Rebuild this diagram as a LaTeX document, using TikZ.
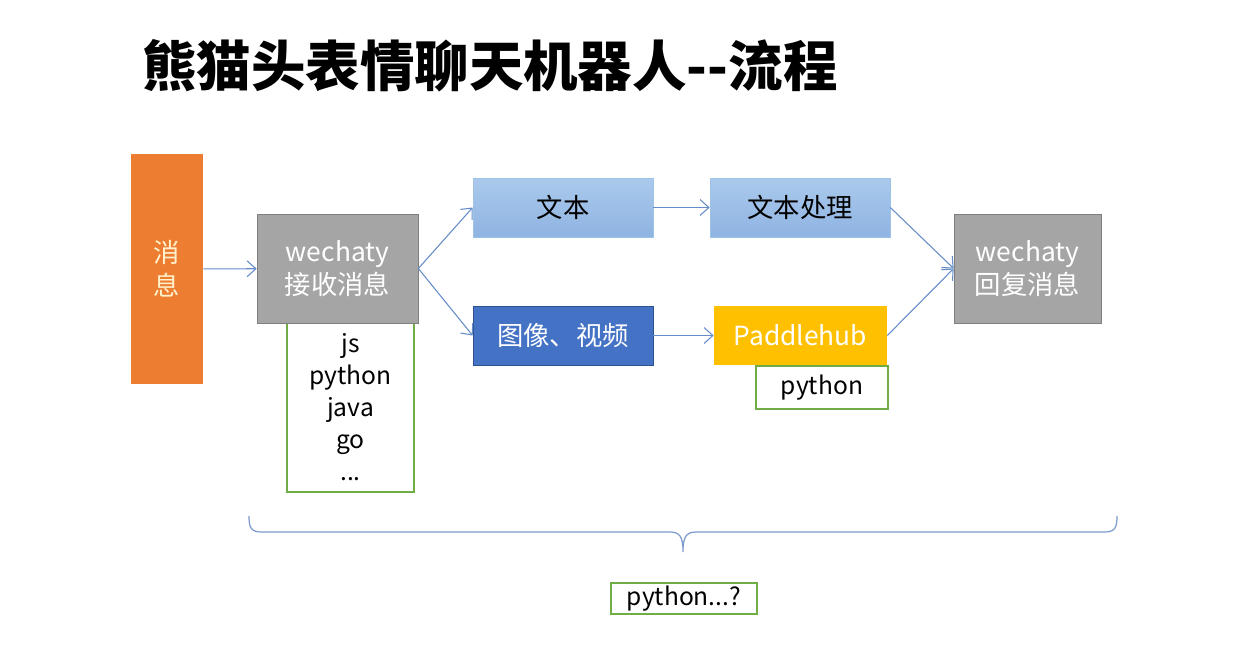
\documentclass[tikz,border=0pt]{standalone}
\usepackage{fontspec}
\setmainfont{Noto Sans CJK SC}
\usetikzlibrary{arrows.meta}

\definecolor{msgorange}{RGB}{237,125,49}
\definecolor{boxgray}{RGB}{165,165,165}
\definecolor{edgegray}{RGB}{127,127,127}
\definecolor{lightblueT}{RGB}{170,201,236}
\definecolor{lightblueB}{RGB}{143,180,226}
\definecolor{edgelight}{RGB}{157,195,230}
\definecolor{mediablue}{RGB}{68,114,196}
\definecolor{edgeblue}{RGB}{47,82,143}
\definecolor{hubyellow}{RGB}{255,192,0}
\definecolor{langgreen}{RGB}{112,173,71}
\definecolor{flowblue}{RGB}{100,140,200}
\definecolor{bracebl}{RGB}{125,155,205}
\definecolor{paletext}{RGB}{255,242,204}

\begin{document}
\begin{tikzpicture}[x=0.02cm, y=-0.02cm,
    box/.style={align=center, inner sep=0pt, font=\fontsize{15}{19}\selectfont},
    grayblock/.style={box, draw=edgegray, fill=boxgray, text=white},
    lightblock/.style={box, draw=edgelight, top color=lightblueT, bottom color=lightblueB, text=black, minimum width=3.6cm, minimum height=1.18cm},
    langbox/.style={draw=langgreen, line width=0.7pt, fill=white, align=center, inner sep=0pt, font=\fontsize{14}{18.2}\selectfont},
    flow/.style={-{Straight Barb[length=5pt,width=9pt]}, draw=flowblue, line width=0.6pt}
]
    \fill[white] (0,0) rectangle (1240,667);
    \useasboundingbox (0,0) rectangle (1240,667);

    \node[anchor=west, font=\fontsize{31}{36}\selectfont\bfseries] (title) at (136,66) {熊猫头表情聊天机器人-{}-流程};

    \node[box, fill=msgorange, text=paletext, minimum width=1.44cm, minimum height=4.6cm] (msg) at (167,269) {消\\息};

    \node[langbox, minimum width=2.54cm, minimum height=3.38cm] (langs) at (350.5,407.5) {js\\python\\java\\go\\...};
    \node[grayblock, minimum width=3.22cm, minimum height=2.18cm] (recv) at (337.5,268.5) {wechaty\\接收消息};

    \node[lightblock] (text) at (563,207.5) {文本};
    \node[lightblock] (textproc) at (800,207.5) {文本处理};
    \node[box, draw=edgeblue, fill=mediablue, text=white, minimum width=3.6cm, minimum height=1.18cm] (media) at (563,335.5) {图像、视频};
    \node[box, fill=hubyellow, text=white, minimum width=3.46cm, minimum height=1.18cm] (paddle) at (800.5,335.5) {Paddlehub};
    \node[langbox, minimum width=2.64cm, minimum height=0.86cm] (pyhub) at (822,387.5) {python};

    \node[grayblock, minimum width=2.94cm, minimum height=2.18cm] (reply) at (1027.5,268.5) {wechaty\\回复消息};

    % connectors
    \draw[flow] (msg) -- (recv);
    \draw[flow] (recv.east) -- (text.west);
    \draw[flow] (recv.east) -- (media.west);
    \draw[flow] (text) -- (textproc);
    \draw[flow] (media) -- (paddle);
    \draw[flow] (textproc.east) -- (reply.west);
    \draw[flow] (paddle.east) -- (reply.west);

    % brace over the whole chain
    \coordinate (braceL) at (249,516);
    \coordinate (braceTip) at (683,552);
    \coordinate (braceR) at (1117,516);
    \draw[bracebl, line width=0.7pt]
        (braceL) .. controls (249,528) and (251,532) .. (262,532) -- (670,532)
        .. controls (680,532) and (683,537) .. (braceTip)
        .. controls (683,537) and (686,532) .. (696,532) -- (1104,532)
        .. controls (1115,532) and (1117,528) .. (braceR);

    \node[langbox, minimum width=2.92cm, minimum height=0.62cm] (pyq) at (684,598.5) {python...?};
\end{tikzpicture}
\end{document}
